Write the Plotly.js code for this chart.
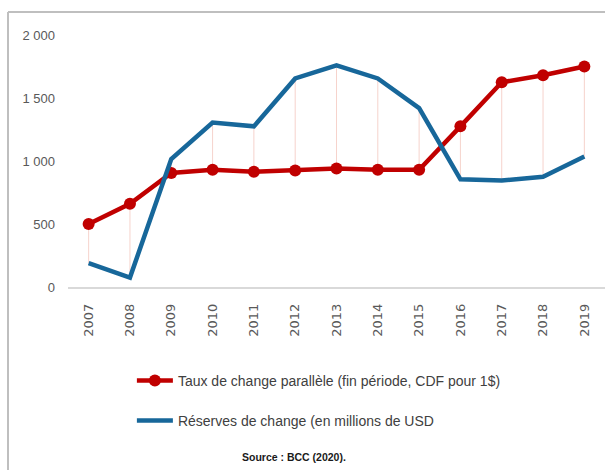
<!DOCTYPE html>
<html>
<head>
<meta charset="utf-8">
<script src="https://cdn.plot.ly/plotly-3.0.1.min.js"></script>
<style>
html,body{margin:0;padding:0;background:#fff;}
#chart{width:605px;height:470px;}
</style>
</head>
<body>
<div id="chart"></div>
<script>
const years = ["2007","2008","2009","2010","2011","2012","2013","2014","2015","2016","2017","2018","2019"];
const tauxChange = [500, 660, 905, 930, 915, 925, 940, 930, 930, 1275, 1625, 1680, 1750];
const reserves = [190, 75, 1015, 1305, 1275, 1655, 1760, 1655, 1420, 855, 845, 875, 1035];
const yTickVals = [0, 500, 1000, 1500, 2000];
const yTickText = ["0", "500", "1 000", "1 500", "2 000"];
const seriesNames = ["Taux de change parallèle (fin période, CDF pour 1$)", "Réserves de change (en millions de USD"];
const sourceText = "Source : BCC (2020).";

// drop lines between the two series
const dropX = [], dropY = [];
years.forEach((y, i) => { dropX.push(y, y, null); dropY.push(tauxChange[i], reserves[i], null); });

const sans = "Liberation Sans, Arial, sans-serif";

const traces = [
  {x: dropX, y: dropY, type: "scatter", mode: "lines", line: {color: "#f6d3cc", width: 1},
   showlegend: false, hoverinfo: "skip"},
  {x: years, y: tauxChange, type: "scatter", mode: "lines+markers", name: seriesNames[0],
   line: {color: "#c00000", width: 4.5}, marker: {color: "#c00000", size: 12, line: {width: 0}},
   legend: "legend"},
  {x: years, y: reserves, type: "scatter", mode: "lines", name: seriesNames[1],
   line: {color: "#17679a", width: 4.5}, legend: "legend2"}
];

const frameColor = "#bfbfbf";
const layout = {
  width: 605, height: 470,
  margin: {l: 68, r: 0, t: 35, b: 183, autoexpand: false},
  paper_bgcolor: "#fff", plot_bgcolor: "#fff",
  font: {family: sans, color: "#595959"},
  xaxis: {type: "category", range: [-0.5, 12.5], showgrid: false, zeroline: false,
    showline: true, linecolor: "#d9d9d9", linewidth: 1.5, ticks: "", tickangle: -90,
    ticklabelstandoff: 10, automargin: false,
    tickfont: {family: "DejaVu Sans, sans-serif", size: 13, color: "#595959"}},
  yaxis: {range: [0, 2000], tickvals: yTickVals, ticktext: yTickText, showgrid: false,
    zeroline: false, showline: false, ticks: "", ticklabelstandoff: 12, automargin: false,
    tickfont: {family: sans, size: 13, color: "#595959"}},
  showlegend: true,
  legend: {xref: "container", yref: "container", x: 0.218, y: 1 - 381/470, xanchor: "left", yanchor: "middle",
    itemwidth: 36, bgcolor: "rgba(0,0,0,0)", font: {family: sans, size: 14, color: "#404040"}},
  legend2: {xref: "container", yref: "container", x: 0.218, y: 1 - 421/470, xanchor: "left", yanchor: "middle",
    itemwidth: 36, bgcolor: "rgba(0,0,0,0)", font: {family: sans, size: 14, color: "#404040"}},
  annotations: [{text: sourceText, xref: "paper", yref: "paper", x: (294-68)/537, y: (287-457)/252,
    xanchor: "center", yanchor: "middle", showarrow: false,
    font: {family: sans, size: 10.5, color: "#1a1a1a", weight: "bold"}}],
  shapes: [
    {type: "line", xref: "paper", yref: "paper", x0: (8-68)/537, x1: (8-68)/537, y0: (287-12)/252, y1: (287-480)/252,
     line: {color: frameColor, width: 2}},
    {type: "line", xref: "paper", yref: "paper", x0: (8-68)/537, x1: 1.02, y0: (287-12)/252, y1: (287-12)/252,
     line: {color: frameColor, width: 2}}
  ]
};

Plotly.newPlot("chart", traces, layout, {displayModeBar: false, staticPlot: true});
</script>
</body>
</html>
